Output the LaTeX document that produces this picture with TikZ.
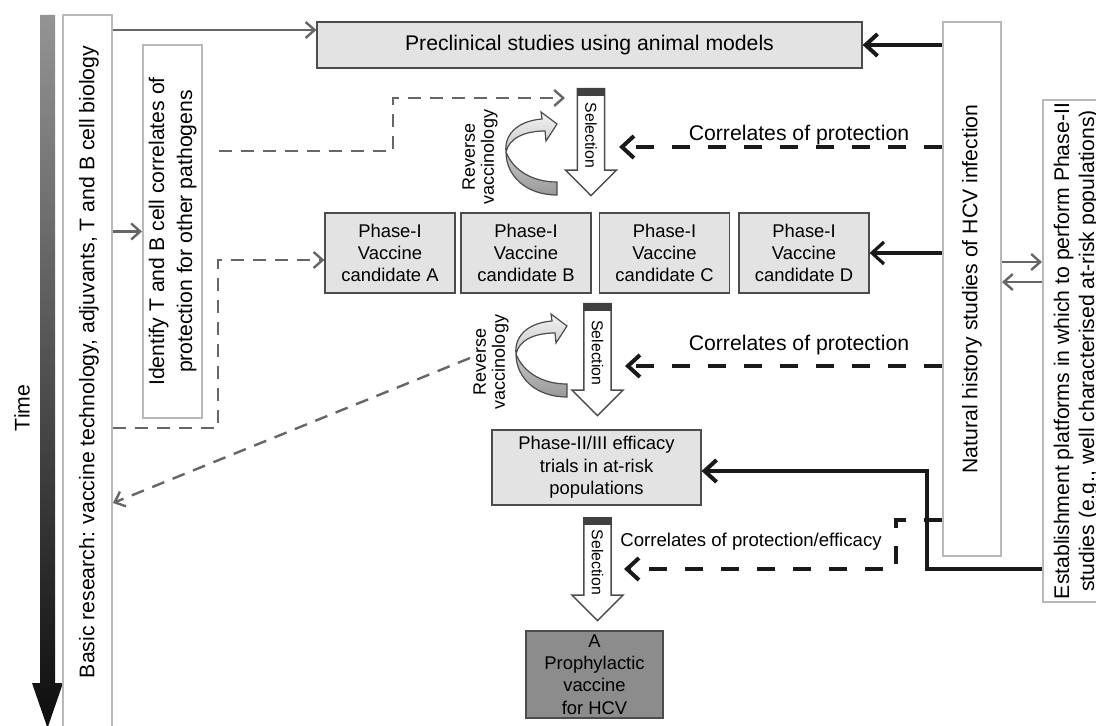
\documentclass[tikz,border=0pt]{standalone}
\usepackage{fontspec}
\setmainfont{Liberation Sans}
\usepackage{graphicx}
\usepackage{tikz}
\usetikzlibrary{arrows.meta}
\usetikzlibrary{shapes.arrows}

\begin{document}
\begin{tikzpicture}[x=0.5pt, y=-0.5pt,
    box/.style={draw=black!70, fill=gray!22, line width=0.6pt, align=center, inner sep=0pt, font=\fontsize{9.2}{11.2}\selectfont},
    phase/.style={box, minimum width=65pt, minimum height=40pt},
    openbox/.style={draw=gray!55, fill=white, line width=1pt, inner sep=0pt},
    bigtext/.style={font=\fontsize{10.6}{14}\selectfont},
    selarrow/.style={single arrow, draw=black!70, fill=white, line width=0.7pt, rotate=-90, anchor=tail, single arrow head extend=6pt, inner xsep=2pt, inner ysep=3.6pt, text height=5.7pt, text depth=0pt, font=\fontsize{7.9}{9}\selectfont},
    revtext/.style={rotate=90, align=center, font=\fontsize{9}{9.5}\selectfont},
    graylink/.style={draw=black!60, line width=1.2pt, -{Straight Barb[length=4.5pt,width=8pt]}},
    graydash/.style={graylink, dash pattern=on 6.5pt off 4.5pt},
    blacklink/.style={draw=black!90, line width=2pt, -{Straight Barb[length=6pt,width=11pt]}},
    blackdash/.style={blacklink, dash pattern=on 9pt off 9pt},
    revarrow/.pic={
      \shade[top color=gray!10, bottom color=gray!80, draw=black!70, line width=0.6pt]
        (0,0) .. controls (-32,0) and (-51,-20) .. (-51,-43)
        .. controls (-48,-57) and (-32,-64) .. (-12,-64)
        -- (-11,-54) -- (0,-71) -- (-16,-83) -- (-15,-76)
        .. controls (-40,-74) and (-53,-60) .. (-51,-43)
        .. controls (-44,-25) and (-25,-13) .. (0,-13) -- cycle;
    }]
		% fix the frame
		\path[use as bounding box] (0,0) rectangle (1096,726);
		% time axis
		\shade[top color=black!42, bottom color=black!95] (40,15) -- (55,15) -- (55,683) -- (63,683) -- (47.5,728) -- (32,683) -- (40,683) -- cycle;
		\node[bigtext, rotate=90] (time) at (22,408) {Time};
		% side columns
		\node[openbox, minimum width=24.5pt, minimum height=362.5pt] (basic) at (87.5,377.5) {};
		\node[bigtext, rotate=90] (basictxt) at (89,362) {Basic research: vaccine technology, adjuvants, T and B cell biology};
		\node[openbox, bigtext, minimum width=29.5pt, minimum height=186.5pt] (ident) at (172.5,231.5) {\rotatebox{90}{\begin{tabular}{@{}c@{}}Identify T and B cell correlates of\\protection for other pathogens\end{tabular}}};
		\node[openbox, bigtext, minimum width=29pt, minimum height=267pt] (nat) at (972,289) {\rotatebox{90}{Natural history studies of HCV infection}};
		\node[openbox, minimum width=33.5pt, minimum height=251pt, font=\fontsize{10.6}{12.5}\selectfont] (est) at (1076.5,351) {\rotatebox{90}{\begin{tabular}{@{}c@{}}Establishment platforms in which to perform Phase-II\\studies (e.g., well characterised at-risk populations)\end{tabular}}};
		% main boxes
		\node[box, minimum width=272.5pt, minimum height=23pt, font=\fontsize{10.6}{13}\selectfont] (pre) at (589.5,45) {Preclinical studies using animal models};
		\node[phase] (phA) at (390,253) {Phase-I\\Vaccine\\candidate A};
		\node[phase] (phB) at (526,253) {Phase-I\\Vaccine\\candidate B};
		\node[phase] (phC) at (664.5,253) {Phase-I\\Vaccine\\candidate C};
		\node[phase] (phD) at (804,253) {Phase-I\\Vaccine\\candidate D};
		\node[box, minimum width=104.5pt, minimum height=37.5pt] (ph2) at (596.5,467.5) {Phase-II/III efficacy\\trials in at-risk\\populations};
		\node[box, fill=black!45, minimum width=68.5pt, minimum height=43.5pt] (vac) at (594.5,674.5) {A\\Prophylactic\\vaccine\\for HCV};
		% selection arrows
		\node[selarrow, minimum height=53.5pt] (sel1) at (591,88) {Selection};
		\node[selarrow, minimum height=56pt] (sel2) at (597.5,303) {Selection};
		\node[selarrow, minimum height=51.5pt] (sel3) at (597.5,517) {Selection};
		\foreach \s in {sel1,sel2,sel3}
			\fill[black!75] (\s.before tail) rectangle ([yshift=-4pt]\s.after tail);
		% reverse vaccinology
		\pic at (557,195) {revarrow};
		\pic at (567,397) {revarrow};
		\node[revtext] (rv1) at (480,157) {Reverse\\vaccinology};
		\node[revtext] (rv2) at (491,362) {Reverse\\vaccinology};
		% correlate labels
		\node[font=\fontsize{10.6}{13}\selectfont] (cor1) at (799,135) {Correlates of protection};
		\node[font=\fontsize{10.6}{13}\selectfont] (cor2) at (799,345) {Correlates of protection};
		\node[font=\fontsize{9.3}{11}\selectfont] (cor3) at (751,542) {Correlates of protection/efficacy};
		% free ends
		\coordinate (sel1in) at (619,147);
		\coordinate (sel2in) at (625,366);
		\coordinate (sel3in) at (624,569);
		\coordinate (rvback) at (470,358);
		\coordinate (identout) at (565,98);
		% links from basic research
		\draw[graylink] (basic.east |- 0,30) -- (pre.west |- 0,30);
		\draw[graylink] (basic.east |- ident.west) -- (ident.west);
		\draw[graydash] ([xshift=8pt]ident.east |- 0,151) -- (393,151) |- (identout);
		\draw[graydash] (basic.east |- 0,428) -| (218,260) -- (phA.west |- 0,260);
		\draw[graydash] (rvback) -- (basic.east |- 0,503);
		% links from natural history and platforms
		\draw[blacklink] (nat.west |- pre.east) -- (pre.east);
		\draw[blacklink, line width=1.6pt] (nat.west |- phD.east) -- (phD.east);
		\draw[blackdash] (nat.west |- 0,147) -- (sel1in);
		\draw[blackdash] (nat.west |- 0,366) -- (sel2in);
		\draw[blackdash] (nat.west |- 0,520) -- (896,520) |- (sel3in);
		\draw[graylink] (nat.east |- 0,262) -- (est.west |- 0,262);
		\draw[graylink] (est.west |- 0,282) -- (nat.east |- 0,282);
		\draw[blacklink] (est.west |- 0,569) -| (927,471) -- (ph2.east |- 0,471);
	\end{tikzpicture}
\end{document}
